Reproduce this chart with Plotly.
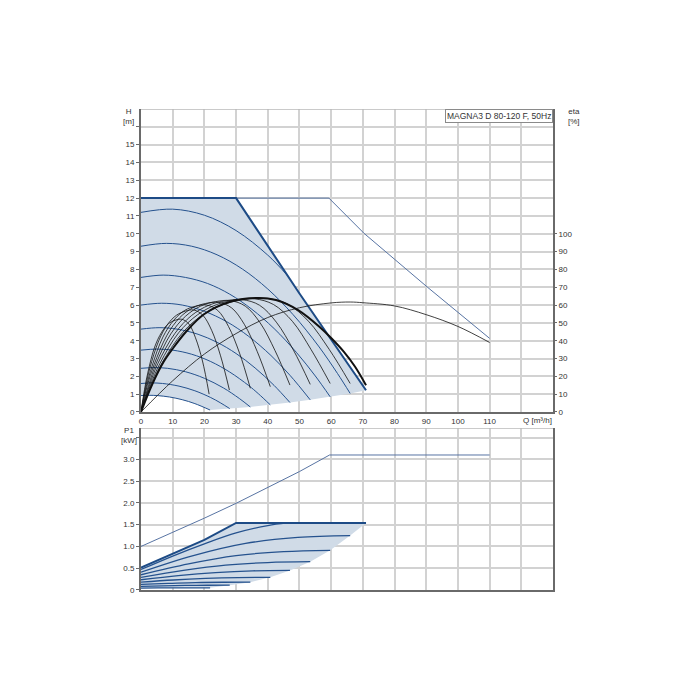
import plotly.graph_objects as go

# ---------------- tick labels ----------------
q_ticks = [0, 10, 20, 30, 40, 50, 60, 70, 80, 90, 100, 110]
h_ticks = [0, 1, 2, 3, 4, 5, 6, 7, 8, 9, 10, 11, 12, 13, 14, 15]
eta_ticks = [0, 10, 20, 30, 40, 50, 60, 70, 80, 90, 100]
p_ticks = [0, 0.5, 1.0, 1.5, 2.0, 2.5, 3.0]
p_tick_labels = ["0", "0.5", "1.0", "1.5", "2.0", "2.5", "3.0"]

# ---------------- head chart (H [m] vs Q [m3/h]) ----------------
# upper limit of the operating range (max speed / max power)
max_q = [0, 30, 50, 71]
max_h = [12, 12, 6.65, 1.22]
# lower limit of the operating range (curve end points)
min_q = [71, 66, 59.7, 53.4, 47, 40.8, 34.5, 28, 21.8]
min_h = [1.22, 1.04, 0.85, 0.68, 0.53, 0.40, 0.28, 0.19, 0.11]

# constant-speed head curves, lowest first
speed_q = [
    [0, 2.6, 5.2, 9, 13, 17, 21.8],
    [0, 3.4, 6.8, 12, 17, 22, 25, 28],
    [0, 4.2, 8.4, 14, 20, 26, 31, 34.5],
    [0, 5, 10, 16, 22, 28, 34, 37, 40.8],
    [0, 5.7, 11.4, 18, 24, 30, 36, 42, 47],
    [0, 6.5, 13, 20, 27, 34, 41, 47, 53.4],
    [0, 7, 14, 21, 28, 35, 42, 49, 55, 59.7],
    [0, 8, 16, 24, 32, 40, 48, 56, 62, 66],
    [0, 10, 20, 30, 40, 46.5],
]
speed_h = [
    [0.92, 0.935, 0.92, 0.84, 0.69, 0.47, 0.11],
    [1.6, 1.63, 1.6, 1.45, 1.19, 0.81, 0.52, 0.19],
    [2.45, 2.49, 2.45, 2.26, 1.89, 1.35, 0.76, 0.28],
    [3.47, 3.53, 3.47, 3.24, 2.83, 2.24, 1.48, 1.03, 0.40],
    [4.65, 4.73, 4.65, 4.36, 3.91, 3.28, 2.47, 1.49, 0.53],
    [6.0, 6.10, 6.0, 5.65, 5.07, 4.24, 3.17, 2.06, 0.68],
    [7.55, 7.68, 7.55, 7.21, 6.61, 5.76, 4.68, 3.35, 2.02, 0.85],
    [9.3, 9.46, 9.3, 8.82, 8.02, 6.90, 5.46, 3.70, 2.16, 1.04],
    [11.2, 11.38, 11.04, 10.18, 8.80, 7.60],
]

# efficiency curves eta [%], lowest speed first (last one = max speed, bold)
eta_q = [
    [0, 1.1, 2.2, 4.3, 6.5, 8.6, 10.8, 12.9, 15.1, 17.2, 19.4, 21.5],
    [0, 1.4, 2.8, 5.6, 8.4, 11.2, 14.0, 16.7, 19.5, 22.3, 25.1, 27.9],
    [0, 1.7, 3.5, 6.9, 10.4, 13.8, 17.3, 20.7, 24.2, 27.6, 31.1, 34.5],
    [0, 2.0, 4.1, 8.2, 12.2, 16.3, 20.4, 24.5, 28.6, 32.6, 36.7, 40.8],
    [0, 2.4, 4.7, 9.4, 14.1, 18.8, 23.5, 28.2, 32.9, 37.6, 42.3, 47],
    [0, 2.7, 5.3, 10.7, 16.0, 21.4, 26.7, 32.0, 37.4, 42.7, 48.1, 53.4],
    [0, 3.0, 6.0, 11.9, 17.9, 23.9, 29.9, 35.8, 41.8, 47.8, 53.7, 59.7],
    [0, 3.3, 6.6, 13.2, 19.8, 26.4, 33.0, 39.6, 46.2, 52.8, 59.4, 66],
    [0, 3.55, 7.1, 10, 14.2, 20, 28.4, 37, 42.6, 49.7, 56.8, 60, 63.9, 67.5, 71],
]
eta_v = [
    [0, 12.5, 22.4, 36.4, 44.7, 49.4, 51.5, 52, 49.4, 41.6, 28.6, 10],
    [0, 13.7, 24.6, 40, 49.2, 54.3, 56.6, 57.2, 54.3, 45.8, 31.5, 12.3],
    [0, 14.4, 25.8, 42, 51.6, 57, 59.4, 60, 57, 48, 33, 13.3],
    [0, 14.8, 26.4, 43.1, 52.9, 58.4, 60.9, 61.5, 58.4, 49.2, 33.8, 14.2],
    [0, 15, 26.9, 43.8, 53.8, 59.4, 61.9, 62.5, 59.4, 50, 34.4, 15.1],
    [0, 15.1, 27.1, 44.1, 54.2, 59.9, 62.4, 63, 59.9, 50.4, 34.7, 15.5],
    [0, 15.2, 27.3, 44.5, 54.6, 60.3, 62.9, 63.5, 60.3, 50.8, 34.9, 16],
    [0, 15.3, 27.4, 44.7, 54.9, 60.6, 63.2, 63.8, 60.6, 51, 35.1, 16],
    [0, 15.5, 28, 35.5, 45, 55, 62, 64, 62.8, 57, 47, 41.5, 34, 25.5, 15],
]

# twin-head (both pumps) curve
twin_q = [0, 59.3, 70.4, 90.4, 110]
twin_h = [12, 12, 10.02, 7.0, 4.13]
twin_eta_q = [0, 10, 20, 30, 40, 50, 60, 66, 70, 80, 90, 100, 110]
twin_eta = [0, 17.5, 32.5, 44, 53, 58.5, 61.2, 61.7, 61.3, 59.5, 54.6, 48, 39]

# ---------------- power chart (P1 [kW] vs Q) ----------------
pmax_q = [0, 10, 20, 30, 71]
pmax = [0.515, 0.83, 1.15, 1.54, 1.54]
pmin_q = [71, 66, 59.7, 53.4, 47, 40.8, 34.5, 28, 21.8]
pmin = [1.54, 1.25, 0.91, 0.65, 0.45, 0.29, 0.18, 0.11, 0.05]

power_q = [
    [0, 5.45, 10.9, 16.35, 21.8],
    [0, 7, 14, 21, 28],
    [0, 8.6, 17.25, 25.9, 34.5],
    [0, 10.2, 20.4, 30.6, 40.8],
    [0, 11.75, 23.5, 35.25, 47],
    [0, 13.4, 26.7, 40, 53.4],
    [0, 15, 30, 45, 59.7],
    [0, 16.5, 33, 49.5, 66],
    [0, 10, 20, 30, 40, 46],
]
power_p = [
    [0.045, 0.048, 0.05, 0.05, 0.05],
    [0.085, 0.096, 0.104, 0.109, 0.11],
    [0.13, 0.15, 0.17, 0.178, 0.18],
    [0.18, 0.23, 0.265, 0.285, 0.29],
    [0.235, 0.33, 0.40, 0.44, 0.45],
    [0.29, 0.45, 0.57, 0.63, 0.65],
    [0.35, 0.60, 0.79, 0.88, 0.91],
    [0.41, 0.79, 1.07, 1.21, 1.25],
    [0.47, 0.78, 1.06, 1.31, 1.48, 1.54],
]

twin_p_q = [0, 10, 20, 30, 40, 50, 59.5, 110]
twin_p = [1.0, 1.32, 1.65, 1.99, 2.35, 2.72, 3.1, 3.1]

# ---------------- styling ----------------
FILL = "#d0dbe7"
NAVY = "#1d4b86"
CURVE = "#25528e"
TWIN = "#5874a3"
GRID = "#d2d2d2"
AXIS = "#6a6a6a"
TXT = "#333333"
FONT = "Liberation Sans, Arial, sans-serif"

fig = go.Figure()

# --- head chart: shaded operating range ---
c1q, c1h = speed_q[0], speed_h[0]
fill_q = max_q + min_q[1:] + c1q[::-1][1:] + [0]
fill_h = max_h + min_h[1:] + c1h[::-1][1:] + [max_h[0]]
fig.add_trace(go.Scatter(x=fill_q, y=fill_h, mode="lines", fill="toself",
                         fillcolor=FILL, line=dict(width=0), hoverinfo="skip",
                         xaxis="x", yaxis="y"))

# twin curve (thin)
fig.add_trace(go.Scatter(x=twin_q, y=twin_h, mode="lines",
                         line=dict(color=TWIN, width=1), xaxis="x", yaxis="y"))

# speed curves
for qs, hs in zip(speed_q, speed_h):
    fig.add_trace(go.Scatter(x=qs, y=hs, mode="lines", line_shape="spline",
                             line=dict(color=CURVE, width=1), xaxis="x", yaxis="y"))

# max boundary
fig.add_trace(go.Scatter(x=max_q, y=max_h, mode="lines",
                         line=dict(color=NAVY, width=2), xaxis="x", yaxis="y"))

# efficiency curves
for i, (qs, es) in enumerate(zip(eta_q, eta_v)):
    bold = i == len(eta_q) - 1
    fig.add_trace(go.Scatter(x=qs, y=es, mode="lines", line_shape="spline",
                             line=dict(color="#111111", width=2 if bold else 0.8),
                             xaxis="x", yaxis="y3"))
fig.add_trace(go.Scatter(x=twin_eta_q, y=twin_eta, mode="lines", line_shape="spline",
                         line=dict(color="#111111", width=0.8), xaxis="x", yaxis="y3"))

# --- power chart ---
p1q, p1p = power_q[0], power_p[0]
pfill_q = pmax_q + pmin_q[1:] + p1q[::-1][1:]
pfill_p = pmax + pmin[1:] + p1p[::-1][1:]
fig.add_trace(go.Scatter(x=pfill_q, y=pfill_p, mode="lines", fill="toself",
                         fillcolor=FILL, line=dict(width=0), hoverinfo="skip",
                         xaxis="x2", yaxis="y2"))
fig.add_trace(go.Scatter(x=twin_p_q, y=twin_p, mode="lines",
                         line=dict(color=TWIN, width=1), xaxis="x2", yaxis="y2"))
for qs, ps in zip(power_q, power_p):
    fig.add_trace(go.Scatter(x=qs, y=ps, mode="lines", line_shape="spline",
                             line=dict(color=CURVE, width=1.3), xaxis="x2", yaxis="y2"))
fig.add_trace(go.Scatter(x=pmax_q, y=pmax, mode="lines",
                         line=dict(color=NAVY, width=2), xaxis="x2", yaxis="y2"))

# ---------------- axes ----------------
x_grid = q_ticks + [120]
x_text = [str(v) for v in q_ticks] + [""]

common_x = dict(range=[0, 130], tickvals=x_grid, showgrid=True,
                gridcolor=GRID, gridwidth=1.5, showline=True, linecolor=AXIS,
                linewidth=2, ticks="", zeroline=False)
common_y = dict(showgrid=True, gridcolor=GRID, gridwidth=1.5, showline=True,
                linecolor=AXIS, linewidth=2, mirror=True, ticks="outside",
                ticklen=3, tickcolor=AXIS, zeroline=False)

# page body has an 8px margin, so the figure is 692px and offset accordingly
fig.update_layout(
    width=692, height=692,
    margin=dict(l=133, r=147, t=101, b=110),
    paper_bgcolor="white", plot_bgcolor="white",
    showlegend=False,
    font=dict(family=FONT, size=8, color=TXT),
    xaxis=dict(domain=[0, 1], anchor="y", ticktext=x_text, **common_x),
    yaxis=dict(domain=[0.3701, 1], anchor="x", range=[0, 17],
               tickvals=h_ticks + [16], ticktext=[str(v) for v in h_ticks] + [""],
               **common_y),
    yaxis3=dict(overlaying="y", side="right", anchor="x", range=[0, 170],
                tickvals=eta_ticks, ticktext=[str(v) for v in eta_ticks],
                ticks="outside", ticklen=3, tickcolor=AXIS, showgrid=False,
                zeroline=False, showline=False),
    xaxis2=dict(domain=[0, 1], anchor="y2", showticklabels=False, **common_x),
    yaxis2=dict(domain=[0, 0.3368], anchor="x2", range=[0, 3.72],
                tickvals=p_ticks + [3.5], ticktext=p_tick_labels + [""],
                **common_y),
)

# top borders (light)
fig.add_shape(type="line", xref="x", yref="y", x0=0, x1=130, y0=17, y1=17,
              line=dict(color="#b8b8b8", width=1.5))
fig.add_shape(type="line", xref="x2", yref="y2", x0=0, x1=130, y0=3.72, y1=3.72,
              line=dict(color="#b8b8b8", width=1.5))

# ---------------- texts ----------------
fig.add_annotation(text="H<br>[m]", xref="paper", yref="paper", x=-0.03, y=1.009,
                   xanchor="center", yanchor="top", showarrow=False,
                   font=dict(size=8, color=TXT), align="center")
fig.add_annotation(text="eta<br>[%]", xref="paper", yref="paper", x=1.05, y=1.009,
                   xanchor="center", yanchor="top", showarrow=False,
                   font=dict(size=8, color=TXT), align="center")
fig.add_annotation(text="P1<br>[kW]", xref="paper", yref="paper", x=-0.03, y=0.345,
                   xanchor="center", yanchor="top", showarrow=False,
                   font=dict(size=8, color=TXT), align="center")
fig.add_annotation(text="Q [m³/h]", xref="x", yref="paper", x=120, y=0.3701,
                   xanchor="left", yanchor="top", yshift=-2, showarrow=False,
                   font=dict(size=8, color=TXT))
fig.add_annotation(text="MAGNA3 D 80-120 F, 50Hz", xref="paper", yref="paper",
                   x=1, y=1, xanchor="right", yanchor="top", showarrow=False,
                   bgcolor="white", bordercolor="#8a8a8a", borderwidth=1,
                   borderpad=1, font=dict(size=8.5, color=TXT))

fig.write_html("out.html")
